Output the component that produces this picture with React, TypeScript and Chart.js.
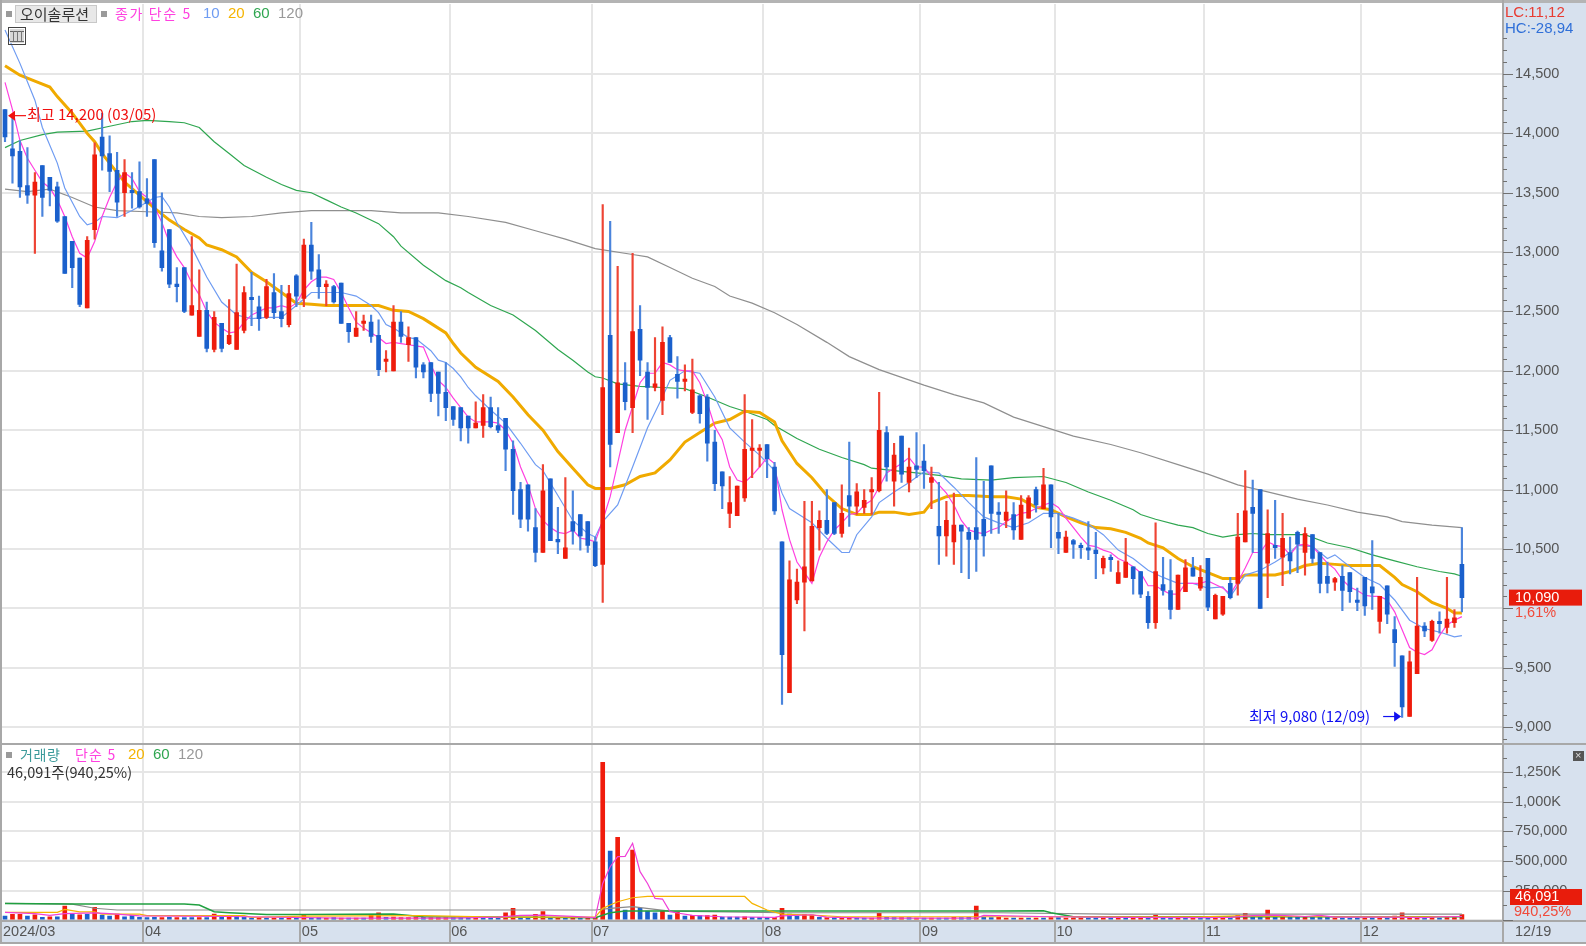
import React, { useEffect, useRef } from "react";
import { Chart, registerables } from "chart.js";

Chart.register(...registerables);

const monthStarts = [0, 19, 40, 60, 79, 102, 123, 141, 161, 182];
const monthNames = ["2024/03", "04", "05", "06", "07", "08", "09", "10", "11", "12"];
const slotCount = 201;

const opens = [14200,13870,13850,13560,13480,13730,13630,13550,13300,13090,12950,12530,13190,13970,13830,13690,13500,13520,13510,13450,13780,13010,13190,12730,12870,12470,12290,12510,12180,12400,12230,12180,12340,12620,12540,12450,12660,12500,12390,12800,12610,13060,12850,12710,12710,12740,12400,12290,12400,12410,12300,12080,12000,12410,12220,12280,12050,12070,11990,11820,11700,11690,11620,11520,11540,11690,11540,11600,11340,11000,11040,10680,10470,11090,10580,10420,10730,10790,10730,10560,10370,12300,11480,11900,11690,12350,11990,11860,11750,12280,11970,11910,11650,11790,11780,11400,11150,10800,10780,10930,11330,11330,11380,11190,10560,9290,10070,10220,10230,10680,10740,10890,10630,10950,10860,10850,10980,10990,11480,11070,11450,11060,11200,11240,11060,10690,10610,10560,10700,10640,10680,10750,11200,10810,10740,10790,10580,10760,11000,10840,11040,10640,10470,10570,10530,10510,10490,10340,10430,10210,10260,10350,10310,10100,9880,10200,10150,9990,10140,10340,10170,10420,9910,9950,10210,10210,10560,10850,11000,10380,10530,10430,10470,10640,10470,10620,10470,10270,10220,10270,10300,10070,10260,10180,9890,10190,9820,9600,9090,9450,9850,9730,9890,9840,9880,10370];
const highs = [14200,14150,13940,13880,13670,13730,13630,13590,13300,13090,12950,13130,13920,14170,13980,13840,13780,13670,13760,13620,13780,13500,13190,12870,12870,13130,12850,12580,12500,12400,12600,12900,12710,12830,12630,12770,12820,12720,12720,12810,13110,13250,12980,12760,12720,12740,12400,12500,12470,12470,12430,12170,12550,12500,12370,12280,12070,12070,11990,12070,11700,11690,11620,11740,11800,11780,11690,11600,11410,11060,11040,10840,11210,11090,10850,11100,10990,10790,10730,10600,13400,13260,12880,12070,12990,12550,12070,12280,12370,12300,12120,12050,12100,11800,11800,11500,11150,11110,11030,11800,11590,11380,11380,11230,10560,10400,10330,10900,10900,10820,11000,10890,11040,11400,11050,11000,11100,11820,11530,11390,11450,11350,11480,11380,11190,11060,10900,10970,10700,10680,11270,11070,11200,10890,10990,10890,10950,10950,11020,11180,11040,10800,10650,10580,10550,10730,10640,10440,10450,10400,10590,10350,10310,10140,10720,10430,10410,10280,10410,10430,10360,10420,10120,10100,10260,10800,11160,11080,11000,10830,10910,10800,10600,10650,10680,10620,10470,10390,10260,10360,10300,10170,10260,10570,10100,10190,9930,9600,9640,10260,9880,9900,9970,10260,9990,10680];
const lows = [13930,13580,13460,13410,12990,13300,13390,13250,12820,12700,12540,12530,13110,13690,13510,13300,13300,13370,13370,13300,13040,12840,12700,12580,12490,12470,12290,12160,12160,12160,12220,12180,12320,12380,12340,12440,12440,12370,12370,12540,12540,12770,12610,12550,12570,12400,12240,12290,12340,12240,11960,11990,12000,12240,12080,11940,11940,11740,11620,11580,11540,11410,11390,11520,11440,11520,11480,11160,10790,10680,10650,10390,10470,10570,10460,10420,10540,10490,10470,10350,10050,11190,11480,11670,11480,11960,11590,11830,11630,12070,11770,11830,11640,11560,11240,10990,10840,10680,10780,10900,11100,11190,11100,10790,9190,9290,10040,9810,10230,10490,10620,10620,10600,10690,10790,10800,10790,10980,11070,10860,11060,10980,11100,11010,10840,10370,10440,10370,10300,10250,10310,10440,10630,10630,10680,10580,10580,10760,10810,10840,10510,10460,10470,10420,10420,10410,10250,10290,10310,10210,10260,10120,10090,9830,9830,10110,9910,9990,10140,10270,10150,9980,9910,9940,10080,10110,10560,10470,10000,10090,10420,10190,10290,10300,10280,10380,10130,10130,10150,9980,10050,9980,9940,9990,9790,9870,9510,9080,9090,9450,9760,9720,9790,9790,9840,9970];
const closes = [13970,13810,13550,13480,13590,13460,13520,13260,12820,12870,12560,13100,13820,13810,13680,13420,13670,13500,13380,13410,13080,12870,12730,12710,12500,12550,12510,12190,12450,12190,12300,12490,12660,12600,12440,12710,12490,12440,12650,12630,13060,12840,12710,12730,12580,12400,12330,12360,12420,12290,12010,12100,12410,12290,12280,12030,11990,11810,11810,11690,11590,11520,11520,11560,11690,11530,11500,11340,10990,10750,10750,10470,10990,10570,10560,10510,10650,10610,10530,10360,11860,11380,11900,11740,12330,12090,11860,11890,12240,12070,11910,11930,11840,11640,11390,11050,11030,10890,11030,11340,11350,11350,11260,10820,9610,10240,10220,10350,10690,10740,10630,10630,10800,10860,10980,10910,11000,11500,11190,11290,11130,11190,11170,11160,11100,10610,10740,10700,10650,10580,10580,10610,10800,10790,10810,10660,10870,10930,10870,11040,10770,10590,10600,10540,10510,10490,10460,10420,10410,10300,10390,10250,10120,9880,10310,10150,9990,10280,10340,10270,10260,10010,10110,10100,10090,10600,10820,10800,10000,10630,10510,10590,10400,10540,10630,10420,10210,10210,10250,10150,10140,10050,10020,10130,10100,9950,9710,9170,9550,9850,9810,9890,9870,9910,9920,10090];

const ma5 = [14430,14200,13940,13790,13690,13590,13540,13440,13300,13130,12990,12950,13090,13300,13460,13590,13670,13620,13510,13460,13380,13250,13080,12960,12870,12740,12640,12500,12410,12360,12320,12330,12410,12470,12500,12530,12530,12550,12530,12570,12680,12750,12790,12790,12770,12660,12530,12410,12360,12320,12280,12230,12240,12230,12220,12210,12200,12050,11920,11860,11770,11690,11610,11570,11570,11570,11560,11500,11390,11190,11040,10840,10740,10680,10640,10630,10660,10590,10580,10560,10740,10940,11220,11500,11700,11900,11980,11980,12070,12050,12010,12000,12000,11900,11730,11530,11420,11190,11080,11060,11120,11190,11270,11220,10830,10580,10390,10300,10210,10430,10560,10660,10720,10790,10800,10870,10910,11020,11140,11180,11220,11270,11190,11190,11110,11040,10970,10870,10740,10660,10640,10630,10660,10680,10730,10770,10800,10810,10840,10870,10890,10850,10760,10680,10600,10530,10520,10490,10470,10420,10390,10350,10300,10190,10190,10150,10120,10120,10210,10210,10210,10230,10200,10170,10120,10220,10340,10470,10470,10560,10530,10520,10450,10530,10540,10520,10450,10380,10330,10240,10180,10150,10110,10100,10100,10070,9970,9820,9670,9630,9610,9650,9770,9860,9900,9930];

const ma10Reads: [number, number][] = [[0,14870],[2,14590],[4,14280],[5,14050],[7,13750],[8,13540],[9,13420],[10,13300],[11,13230],[12,13250],[13,13300],[15,13290],[17,13350],[19,13420],[20,13460],[21,13470],[22,13380],[23,13250],[25,13040],[27,12790],[29,12580],[31,12470],[33,12440],[35,12450],[37,12450],[39,12550],[41,12660],[43,12660],[45,12660],[47,12630],[49,12550],[50,12490],[51,12390],[52,12360],[54,12280],[55,12270],[56,12220],[57,12170],[58,12090],[59,12070],[60,12020],[61,11950],[62,11860],[63,11790],[65,11670],[67,11560],[69,11390],[71,11210],[72,11160],[74,10950],[76,10740],[78,10630],[79,10600],[80,10730],[82,10870],[84,11190],[86,11520],[88,11780],[89,11920],[91,12000],[93,11980],[95,11780],[97,11520],[99,11400],[101,11290],[103,11160],[104,10970],[105,10840],[106,10800],[108,10720],[110,10590],[112,10470],[113,10470],[114,10620],[116,10770],[117,10890],[119,10980],[121,11060],[123,11150],[125,11140],[127,11020],[129,10890],[131,10770],[133,10720],[135,10680],[137,10720],[139,10800],[141,10800],[143,10760],[145,10710],[147,10620],[149,10490],[151,10420],[153,10320],[155,10260],[157,10210],[159,10210],[161,10170],[163,10180],[164,10100],[166,10280],[168,10320],[170,10390],[172,10470],[173,10530],[175,10520],[176,10470],[177,10420],[178,10450],[180,10350],[182,10260],[184,10200],[186,10070],[188,9900],[190,9830],[192,9800],[194,9760],[195,9770]];
const ma20Reads: [number, number][] = [[0,14570],[2,14490],[4,14440],[6,14390],[7,14310],[9,14170],[11,14000],[12,13930],[13,13830],[14,13750],[16,13590],[18,13480],[20,13370],[22,13270],[24,13190],[26,13120],[27,13060],[29,13020],[31,12960],[33,12830],[35,12750],[37,12660],[39,12570],[41,12560],[43,12550],[46,12550],[48,12550],[50,12550],[52,12510],[54,12500],[56,12440],[57,12400],[59,12320],[60,12230],[61,12150],[63,12030],[66,11910],[68,11780],[70,11630],[72,11500],[74,11320],[76,11180],[78,11040],[79,11010],[81,11010],[83,11040],[85,11110],[87,11140],[89,11250],[91,11400],[93,11480],[95,11560],[97,11590],[99,11660],[101,11650],[103,11570],[104,11410],[106,11220],[108,11100],[110,10950],[112,10840],[114,10790],[116,10790],[117,10810],[119,10810],[121,10790],[123,10810],[124,10890],[126,10940],[127,10950],[129,10950],[132,10940],[134,10940],[136,10920],[138,10850],[140,10830],[142,10770],[144,10720],[146,10680],[148,10670],[150,10640],[152,10590],[153,10550],[155,10510],[157,10420],[159,10350],[161,10300],[163,10250],[165,10250],[166,10280],[168,10280],[170,10280],[172,10310],[174,10360],[176,10380],[178,10370],[180,10360],[183,10360],[184,10360],[186,10260],[187,10200],[189,10140],[191,10050],[193,10000],[194,9960],[195,9960]];
const ma60Reads: [number, number][] = [[0,13880],[2,13940],[5,13990],[7,14010],[11,14020],[14,14060],[17,14100],[19,14110],[22,14100],[24,14090],[26,14050],[28,13930],[30,13830],[32,13730],[35,13630],[37,13570],[39,13520],[41,13500],[43,13440],[45,13380],[47,13330],[50,13240],[52,13130],[53,13050],[56,12890],[59,12760],[61,12700],[62,12660],[65,12550],[68,12470],[71,12340],[74,12180],[76,12090],[78,11990],[79,11950],[80,11940],[82,11890],[85,11870],[88,11860],[91,11850],[94,11780],[97,11700],[99,11660],[102,11590],[103,11540],[106,11430],[109,11340],[112,11270],[115,11210],[116,11180],[119,11160],[122,11140],[125,11120],[128,11090],[132,11080],[135,11100],[139,11110],[142,11060],[145,10980],[148,10910],[151,10830],[152,10790],[154,10750],[157,10700],[159,10680],[161,10630],[163,10600],[165,10620],[167,10630],[169,10620],[171,10620],[174,10620],[177,10550],[180,10510],[183,10450],[186,10400],[189,10350],[192,10310],[194,10290],[195,10270]];
const ma120Reads: [number, number][] = [[0,13530],[3,13510],[6,13530],[9,13460],[12,13380],[15,13350],[19,13340],[23,13330],[26,13300],[29,13290],[33,13300],[37,13330],[41,13350],[45,13350],[49,13350],[53,13330],[58,13330],[62,13300],[67,13250],[71,13180],[75,13110],[79,13030],[84,12980],[86,12960],[89,12870],[92,12780],[95,12710],[97,12630],[100,12570],[103,12490],[106,12390],[110,12240],[113,12120],[117,12010],[123,11880],[127,11800],[131,11730],[135,11610],[139,11530],[143,11450],[148,11380],[152,11310],[157,11210],[161,11130],[165,11040],[169,10980],[173,10920],[177,10870],[181,10810],[185,10770],[187,10730],[191,10700],[195,10680]];

const volumes = [34000,48000,48000,34000,45000,23000,28000,28000,119000,51000,45000,48000,107000,42000,34000,51000,28000,40000,23000,20000,23000,20000,23000,20000,20000,20000,20000,20000,51000,23000,34000,34000,23000,17000,20000,17000,17000,17000,17000,17000,45000,17000,20000,17000,20000,17000,17000,17000,17000,42000,62000,23000,25000,20000,20000,28000,23000,20000,20000,20000,20000,20000,20000,20000,23000,20000,20000,62000,99000,23000,23000,48000,71000,23000,20000,20000,23000,17000,17000,23000,1336000,585000,700000,85000,593000,99000,76000,62000,76000,42000,65000,34000,40000,37000,37000,42000,25000,25000,25000,28000,23000,23000,23000,23000,99000,51000,34000,48000,42000,23000,20000,20000,17000,17000,17000,17000,17000,56000,23000,20000,20000,20000,17000,17000,17000,17000,17000,23000,20000,23000,119000,23000,20000,23000,17000,17000,17000,17000,17000,17000,20000,20000,17000,17000,17000,17000,17000,17000,17000,17000,17000,17000,17000,17000,42000,17000,17000,17000,17000,17000,17000,17000,17000,17000,20000,40000,56000,25000,28000,85000,25000,23000,23000,23000,23000,23000,23000,23000,17000,17000,17000,17000,17000,17000,17000,17000,34000,62000,25000,25000,20000,20000,17000,20000,20000,46091];
const volumeUp = [0,1,1,0,1,0,1,0,1,0,1,0,1,0,0,1,0,0,0,0,0,1,0,1,0,0,1,0,1,0,1,0,0,0,1,0,1,0,1,0,1,0,0,1,0,1,0,1,0,1,1,0,1,1,1,1,0,1,1,1,0,0,0,1,0,0,0,1,1,0,0,1,1,0,1,0,1,0,1,1,1,0,1,0,1,0,0,0,1,0,1,0,1,0,1,1,0,0,0,1,0,0,0,1,1,0,0,1,1,0,1,0,1,1,0,0,1,1,0,0,1,0,1,0,1,0,0,1,0,0,1,0,0,1,1,0,1,0,1,0,1,0,1,1,1,0,0,1,0,1,0,1,1,0,1,0,0,1,0,1,0,0,1,1,0,1,1,0,0,1,0,1,0,0,1,0,0,0,1,0,0,0,1,0,1,0,1,1,1,1,0,1,0,1,1,1];

const volMa5Reads: [number, number][] = [[0,65000],[4,55000],[6,40000],[8,55000],[12,60000],[14,55000],[18,35000],[30,30000],[45,17000],[60,17000],[66,25000],[69,40000],[72,42000],[76,32000],[79,20000],[80,310000],[81,452000],[82,537000],[83,540000],[84,650000],[85,410000],[86,310000],[87,184000],[88,178000],[89,71000],[90,60000],[92,40000],[96,28000],[103,22000],[104,35000],[108,45000],[110,25000],[116,17000],[130,17000],[131,40000],[140,28000],[150,22000],[160,20000],[164,22000],[167,38000],[170,42000],[174,30000],[176,40000],[178,25000],[186,25000],[190,20000],[192,28000],[195,30000]];
const volMa20Reads: [number, number][] = [[0,65000],[7,65000],[8,90000],[10,70000],[12,70000],[13,50000],[18,50000],[19,37000],[32,37000],[33,23000],[40,34000],[56,37000],[66,25000],[79,25000],[80,99000],[81,127000],[82,155000],[84,189000],[86,200000],[99,200000],[100,141000],[102,85000],[104,51000],[108,42000],[112,28000],[130,28000],[140,28000],[160,28000],[165,35000],[178,28000],[190,28000],[195,30000]];
const volMa60Reads: [number, number][] = [[0,141000],[9,135000],[24,135000],[26,127000],[28,70000],[30,62000],[35,48000],[40,48000],[52,51000],[56,28000],[66,25000],[79,20000],[81,62000],[83,76000],[133,76000],[139,79000],[140,62000],[143,28000],[195,28000]];
const volMa120Reads: [number, number][] = [[0,141000],[9,135000],[12,100000],[15,85000],[28,85000],[40,85000],[79,85000],[81,99000],[84,113000],[87,90000],[89,76000],[104,62000],[133,62000],[148,51000],[195,51000]];

const volumeTickValues = [0,125000,250000,375000,500000,625000,750000,875000,1000000,1125000,1250000,1375000];
const volumeLabels: Record<number, string> = { 1250000: "1,250K", 1000000: "1,000K", 750000: "750,000", 500000: "500,000", 250000: "250,000" };
const PRICE_LABEL_STEP = 500;
const VOLUME_LABEL_STEP = 250000;

const RED = "#ee1c0c";
const BLUE = "#1a60cc";
const RED_WICK = "#ee4434";
const BLUE_WICK = "#4a84dc";
const MAGENTA = "#ff40e0";
const SKY = "#6f9cf2";
const ORANGE = "#f0aa00";
const GREEN = "#2fa650";
const GRAY = "#8f8f8f";
const PANEL = "#d7e1ee";
const GRID = "#e6e6e6";
const EDGE = "#a8a8a8";
const INK = "#555555";
const LATIN = '"Liberation Sans","Noto Sans CJK KR",sans-serif';
const MARK = '"Noto Sans CJK KR",sans-serif';
const HANGUL = '"Noto Sans CJK KR","Liberation Sans",sans-serif';

function spread(reads: [number, number][]) {
  const out: (number | null)[] = new Array(opens.length).fill(null);
  reads.forEach(([i, v]) => (out[i] = v));
  return out;
}

function put(ctx: CanvasRenderingContext2D, s: string, x: number, y: number, color: string, font: string, spacing = "0px") {
  ctx.font = font;
  ctx.fillStyle = color;
  ctx.textAlign = "left";
  ctx.textBaseline = "middle";
  (ctx as any).letterSpacing = spacing;
  ctx.fillText(s, x, y);
  (ctx as any).letterSpacing = "0px";
}

function box(ctx: CanvasRenderingContext2D, x: number, y: number, w: number, h: number, color: string) {
  ctx.fillStyle = color;
  ctx.fillRect(x, y, w, h);
}

function noScalePadding(s: any) {
  s.paddingTop = 0;
  s.paddingBottom = 0;
  s.paddingLeft = 0;
  s.paddingRight = 0;
}

const panelPlugin = {
  id: "panels",
  beforeDraw(chart: any) {
    const { ctx, width, chartArea: a } = chart;
    box(ctx, 0, 0, width, chart.height, "#ffffff");
    box(ctx, a.right, 0, width - a.right, a.bottom + 22, PANEL);
    box(ctx, 0, a.bottom, width, 22, PANEL);
  },
  afterDraw(chart: any) {
    const { ctx, width, chartArea: a, scales } = chart;
    const yP = scales.yPrice;
    const yV = scales.yVol;
    const xS = scales.x;
    ctx.save();

    box(ctx, 0, 0, width, 3, "#b4b4b4");
    box(ctx, 0, 0, 2, a.bottom + 22, EDGE);
    box(ctx, a.right - 1, 0, 2, a.bottom + 22, EDGE);
    box(ctx, 0, yP.bottom - 1, width, 2, EDGE);
    box(ctx, 0, a.bottom - 1, width, 2, EDGE);
    box(ctx, 0, a.bottom + 21, width, 2, EDGE);

    yP.ticks.forEach((t: any) => {
      if (t.value > 14800) return;
      const p = Math.round(yP.getPixelForValue(t.value));
      box(ctx, a.right, p, t.value % PRICE_LABEL_STEP === 0 ? 10 : 4, 1, "#707070");
    });
    yV.ticks.forEach((t: any) => {
      const p = Math.round(yV.getPixelForValue(t.value));
      box(ctx, a.right, p, t.value % VOLUME_LABEL_STEP === 0 ? 10 : 4, 1, "#707070");
    });

    // header legend
    box(ctx, 6, 11, 6, 6, "#9a9a9a");
    box(ctx, 15, 5, 82, 18, "#e8e8e8");
    ctx.strokeStyle = "#c8c8c8";
    ctx.strokeRect(15.5, 5.5, 81, 17);
    put(ctx, "오이솔루션", 20, 14, "#333333", `15px ${HANGUL}`);
    box(ctx, 101, 11, 6, 6, "#9a9a9a");
    put(ctx, "종가 단순 5", 115, 14, MAGENTA, `14px ${HANGUL}`, "1.6px");
    put(ctx, "10", 203, 14, SKY, `15px ${LATIN}`);
    put(ctx, "20", 228, 14, "#f5b400", `15px ${LATIN}`);
    put(ctx, "60", 253, 14, GREEN, `15px ${LATIN}`);
    put(ctx, "120", 278, 14, "#999999", `15px ${LATIN}`);

    // table icon
    ctx.strokeStyle = "#444444";
    ctx.lineWidth = 1;
    ctx.strokeRect(8.5, 27.5, 17, 17);
    box(ctx, 10, 29, 14, 14, "#d8d8d8");
    box(ctx, 10, 31, 14, 1, "#666666");
    [13, 17, 21].forEach((v) => box(ctx, v, 31, 1, 11, "#777777"));
    box(ctx, 10, 41, 14, 1, "#666666");

    // right-top statistics
    put(ctx, "LC:11,12", 1505, 13, "#e83a30", `15px ${LATIN}`);
    put(ctx, "HC:-28,94", 1505, 29, "#2f6fd8", `15px ${LATIN}`);

    // high / low markers
    const hiY = yP.getPixelForValue(highs[0]) + 6;
    const hiX = xS.getPixelForValue(0) + 3;
    ctx.strokeStyle = "#f01010";
    ctx.lineWidth = 1.2;
    ctx.beginPath();
    ctx.moveTo(hiX + 4, hiY);
    ctx.lineTo(hiX + 18, hiY);
    ctx.stroke();
    ctx.fillStyle = "#f01010";
    ctx.beginPath();
    ctx.moveTo(hiX, hiY);
    ctx.lineTo(hiX + 7, hiY - 5);
    ctx.lineTo(hiX + 7, hiY + 5);
    ctx.closePath();
    ctx.fill();
    put(ctx, "최고 14,200 (03/05)", 27, hiY - 1, "#f01010", `15px ${MARK}`);

    const loIdx = lows.indexOf(Math.min(...lows));
    const loX = xS.getPixelForValue(loIdx) - 1;
    const loY = yP.getPixelForValue(lows[loIdx]) - 1;
    ctx.strokeStyle = "#1010f0";
    ctx.beginPath();
    ctx.moveTo(loX - 18, loY);
    ctx.lineTo(loX - 4, loY);
    ctx.stroke();
    ctx.fillStyle = "#1010f0";
    ctx.beginPath();
    ctx.moveTo(loX, loY);
    ctx.lineTo(loX - 7, loY - 5);
    ctx.lineTo(loX - 7, loY + 5);
    ctx.closePath();
    ctx.fill();
    put(ctx, "최저 9,080 (12/09)", 1249, loY, "#1010f0", `15px ${MARK}`);

    // price tag
    const tagY = yP.getPixelForValue(closes[closes.length - 1]);
    box(ctx, 1509, tagY - 8, 73, 16, "#e81c0c");
    put(ctx, "10,090", 1515, tagY, "#ffffff", `14.5px ${LATIN}`);
    put(ctx, "1,61%", 1515, tagY + 15, "#f04a3a", `14.5px ${LATIN}`);

    // volume legend
    box(ctx, 6, 752, 6, 6, "#9a9a9a");
    put(ctx, "거래량", 20, 755, "#3a9a9a", `14px ${HANGUL}`, "0.6px");
    put(ctx, "단순 5", 75, 755, MAGENTA, `14px ${HANGUL}`, "1.2px");
    put(ctx, "20", 128, 755, "#f5b400", `15px ${LATIN}`);
    put(ctx, "60", 153, 755, GREEN, `15px ${LATIN}`);
    put(ctx, "120", 178, 755, "#999999", `15px ${LATIN}`);
    put(ctx, "46,091주(940,25%)", 7, 772, "#333333", `14.5px ${MARK}`);

    // volume tag
    box(ctx, 1510, 889, 72, 16, "#e81c0c");
    put(ctx, "46,091", 1515, 897, "#ffffff", `14.5px ${LATIN}`);
    put(ctx, "940,25%", 1514, 912, "#f04a3a", `14.5px ${LATIN}`);

    // small close button of the volume pane
    box(ctx, 1573, 751, 11, 10, "#555555");
    put(ctx, "×", 1575, 756, "#dddddd", `11px ${LATIN}`);

    put(ctx, "12/19", 1515, 932, INK, `14.5px ${LATIN}`);
    ctx.restore();
  },
};

export default function App() {
  const ref = useRef<HTMLCanvasElement | null>(null);

  useEffect(() => {
    document.body.style.margin = "0";
    document.body.style.background = "#ffffff";
    const labels = Array.from({ length: slotCount }, (_, i) => {
      const at = monthStarts.indexOf(i);
      return at >= 0 ? monthNames[at] : "";
    });
    const up = closes.map((c, i) => c >= opens[i]);
    const line = (label: string, data: (number | null)[], color: string, width: number, axis: string, order: number) => ({
      type: "line" as const,
      label,
      data,
      borderColor: color,
      backgroundColor: color,
      borderWidth: width,
      pointRadius: 0,
      tension: 0,
      spanGaps: true,
      yAxisID: axis,
      order,
    });
    const bar = (label: string, data: any[], colors: string[], thickness: number, axis: string, order: number) => ({
      type: "bar" as const,
      label,
      data,
      backgroundColor: colors,
      borderWidth: 0,
      barThickness: thickness,
      grouped: false,
      yAxisID: axis,
      order,
    });

    const chart = new Chart(ref.current as HTMLCanvasElement, {
      data: {
        labels,
        datasets: [
          bar("몸통", opens.map((o, i) => [Math.min(o, closes[i]), Math.max(o, closes[i])]), up.map((u) => (u ? RED : BLUE)), 4, "yPrice", 1),
          bar("꼬리", lows.map((l, i) => [l, highs[i]]), up.map((u) => (u ? RED_WICK : BLUE_WICK)), 1.5, "yPrice", 2),
          line("단순 5", ma5, MAGENTA, 1.2, "yPrice", 3),
          line("10", spread(ma10Reads), SKY, 1.2, "yPrice", 4),
          line("20", spread(ma20Reads), ORANGE, 3, "yPrice", 5),
          line("60", spread(ma60Reads), GREEN, 1.2, "yPrice", 6),
          line("120", spread(ma120Reads), GRAY, 1.2, "yPrice", 7),
          line("거래량 5", spread(volMa5Reads), "#f040d8", 1.2, "yVol", 8),
          line("거래량 20", spread(volMa20Reads), "#f5b400", 1.2, "yVol", 9),
          line("거래량 60", spread(volMa60Reads), "#20a040", 1.5, "yVol", 10),
          line("거래량 120", spread(volMa120Reads), "#8a8a8a", 1.2, "yVol", 11),
          bar("거래량", volumes, volumeUp.map((u) => (u ? "#f01c0c" : BLUE)), 4, "yVol", 12),
        ],
      },
      options: {
        animation: false,
        responsive: false,
        devicePixelRatio: 1,
        layout: { autoPadding: false, padding: { left: 1.27, top: 4, right: 0, bottom: 3 } },
        plugins: { legend: { display: false }, title: { display: false }, tooltip: { enabled: false } },
        events: [],
        scales: {
          x: {
            type: "category",
            position: "bottom",
            offset: true,
            border: { display: false },
            grid: {
              offset: true,
              lineWidth: 2,
              tickLength: 22,
              tickWidth: 2,
              color: (c: any) => (monthStarts.includes(c.index) && c.index > 0 ? GRID : "transparent"),
              tickColor: (c: any) => (monthStarts.includes(c.index) && c.index > 0 ? EDGE : "transparent"),
            },
            ticks: {
              autoSkip: false,
              maxRotation: 0,
              minRotation: 0,
              align: "start",
              padding: -20,
              labelOffset: -2,
              color: INK,
              font: { family: LATIN, size: 14.5 },
            },
            afterFit: (s: any) => {
              s.height = 22;
              noScalePadding(s);
            },
          },
          yPrice: {
            type: "linear",
            position: "right",
            stack: "panes",
            stackWeight: 740,
            min: 8857,
            max: 15090,
            border: { display: false },
            grid: {
              drawTicks: false,
              lineWidth: 2,
              color: (c: any) => (c.tick && c.tick.value % PRICE_LABEL_STEP === 0 && c.tick.value <= 14500 ? GRID : "transparent"),
            },
            ticks: {
              stepSize: 100,
              autoSkip: false,
              includeBounds: false,
              padding: 12,
              color: INK,
              font: { family: LATIN, size: 14.5 },
              callback: (v: any) => (v % PRICE_LABEL_STEP === 0 && v <= 14500 && v !== 10000 ? Number(v).toLocaleString("en-US") : ""),
            },
            afterFit: (s: any) => {
              s.width = 83;
              noScalePadding(s);
            },
          },
          yVol: {
            type: "linear",
            position: "right",
            stack: "panes",
            stackWeight: 177,
            min: -8000,
            max: 1491000,
            border: { display: false },
            afterBuildTicks: (s: any) => {
              s.ticks = volumeTickValues.map((value) => ({ value }));
            },
            grid: {
              drawTicks: false,
              lineWidth: 2,
              color: (c: any) => (c.tick && c.tick.value % VOLUME_LABEL_STEP === 0 ? GRID : "transparent"),
            },
            ticks: {
              autoSkip: false,
              includeBounds: false,
              padding: 12,
              color: INK,
              font: { family: LATIN, size: 14.5 },
              callback: (v: any) => volumeLabels[v] ?? "",
            },
            afterFit: (s: any) => {
              s.width = 83;
              noScalePadding(s);
            },
          },
        },
      } as any,
      plugins: [panelPlugin],
    } as any);
    return () => chart.destroy();
  }, []);

  return (
    <div style={{ position: "absolute", left: 0, top: 0, width: 1586, height: 946 }}>
      <canvas ref={ref} width={1586} height={946} style={{ display: "block" }} />
    </div>
  );
}
